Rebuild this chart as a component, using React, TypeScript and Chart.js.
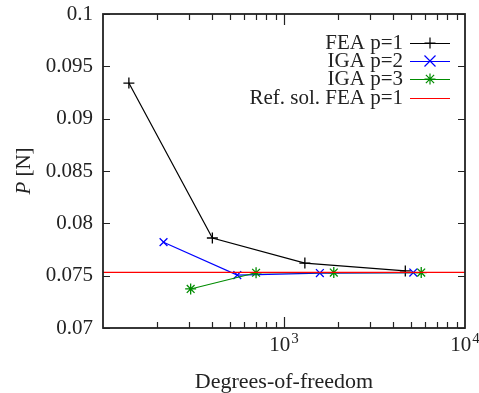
import React, { useEffect, useRef } from "react";
import { Chart, registerables } from "chart.js";

Chart.register(...registerables);

const feaDofs = [139, 402, 1304, 4680];
const feaP = [0.0934, 0.0786, 0.0762, 0.07545];
const iga2Dofs = [216, 552, 1578, 5180];
const iga2P = [0.0782, 0.07506, 0.07525, 0.0753];
const iga3Dofs = [305, 701, 1884, 5730];
const iga3P = [0.07373, 0.07528, 0.0753, 0.0753];
const refValue = 0.07532;
const seriesLabels = ["FEA p=1", "IGA p=2", "IGA p=3", "Ref. sol. FEA p=1"];
const seriesColors = ["#000000", "#0000ff", "#008c00", "#ff0000"];
const yTicks = [0.07, 0.075, 0.08, 0.085, 0.09, 0.095, 0.1];
const xMinorTicks = [200, 300, 400, 500, 600, 700, 800, 900, 2000, 3000, 4000, 5000, 6000, 7000, 8000, 9000];
const xMajorTicks = [1000];
const xLabelValues = [1000, 10000];
const xLabelExponents = ["3", "4"];
const xTitle = "Degrees-of-freedom";
const yTitle = "P [N]";

const FONT = "'Liberation Serif', 'DejaVu Serif', serif";
const TEXT = "#222";

export default function App() {
  const ref = useRef<HTMLCanvasElement>(null);
  useEffect(() => {
    const ctx = ref.current!.getContext("2d")!;
    const decor = {
      id: "decor",
      afterDraw(chart: any) {
        const c = chart.ctx;
        const a = chart.chartArea;
        const xs = chart.scales.x;
        const ys = chart.scales.y;
        c.save();
        c.strokeStyle = "#222";
        c.lineWidth = 1.2;
        c.beginPath();
        yTicks.forEach((v) => {
          const y = Math.round(ys.getPixelForValue(v)) + 0.5;
          c.moveTo(a.left, y); c.lineTo(a.left + 7, y);
          c.moveTo(a.right, y); c.lineTo(a.right - 7, y);
        });
        xMinorTicks.forEach((v) => {
          const x = Math.round(xs.getPixelForValue(v)) + 0.5;
          c.moveTo(x, a.bottom); c.lineTo(x, a.bottom - 6);
          c.moveTo(x, a.top); c.lineTo(x, a.top + 6);
        });
        xMajorTicks.forEach((v) => {
          const x = Math.round(xs.getPixelForValue(v)) + 0.5;
          c.moveTo(x, a.bottom); c.lineTo(x, a.bottom - 11);
          c.moveTo(x, a.top); c.lineTo(x, a.top + 11);
        });
        c.stroke();
        c.lineWidth = 1.8;
        c.strokeRect(a.left, a.top, a.right - a.left, a.bottom - a.top);
        c.fillStyle = TEXT;
        // x tick labels with superscripts
        c.textBaseline = "alphabetic";
        c.textAlign = "left";
        xLabelValues.forEach((v, i) => {
          const cx = xs.getPixelForValue(v);
          c.font = `21px ${FONT}`;
          const bw = c.measureText("10").width;
          c.font = `15px ${FONT}`;
          const ew = c.measureText(xLabelExponents[i]).width;
          const sx = cx - (bw + ew + 1) / 2;
          c.font = `21px ${FONT}`;
          c.fillText("10", sx, 351);
          c.font = `15px ${FONT}`;
          c.fillText(xLabelExponents[i], sx + bw + 1, 343);
        });
        // titles
        c.font = `22px ${FONT}`;
        c.textAlign = "center";
        c.textBaseline = "middle";
        c.fillText(xTitle, (a.left + a.right) / 2, 382);
        c.save();
        c.translate(24, (a.top + a.bottom) / 2);
        c.rotate(-Math.PI / 2);
        const parts = yTitle.split(" ");
        c.font = `italic 21px ${FONT}`;
        const pw = c.measureText(parts[0]).width;
        c.font = `21px ${FONT}`;
        const rw = c.measureText(" " + parts[1]).width;
        const start = -(pw + rw) / 2;
        c.textAlign = "left";
        c.font = `italic 21px ${FONT}`;
        c.fillText(parts[0], start, 0);
        c.font = `21px ${FONT}`;
        c.fillText(" " + parts[1], start + pw, 0);
        c.restore();
        // legend
        const rows = [43, 61, 79, 98];
        const markers = ["cross", "crossRot", "star", ""];
        c.font = `21px ${FONT}`;
        c.textAlign = "right";
        rows.forEach((ry, i) => {
          c.fillStyle = TEXT;
          c.fillText(seriesLabels[i], 403, ry);
          c.strokeStyle = seriesColors[i];
          c.lineWidth = 1.2;
          c.beginPath();
          c.moveTo(410, ry + 0.5);
          c.lineTo(450, ry + 0.5);
          c.stroke();
          if (markers[i]) {
            const r = 5.5;
            c.beginPath();
            const m = markers[i];
            if (m === "cross" || m === "star") {
              c.moveTo(430 - r, ry); c.lineTo(430 + r, ry);
              c.moveTo(430, ry - r); c.lineTo(430, ry + r);
            }
            if (m === "crossRot" || m === "star") {
              const d = m === "star" ? r * 0.75 : r;
              c.moveTo(430 - d, ry - d); c.lineTo(430 + d, ry + d);
              c.moveTo(430 - d, ry + d); c.lineTo(430 + d, ry - d);
            }
            c.stroke();
          }
        });
        c.restore();
      },
    };
    const mk = (xsArr: number[], ysArr: number[]) => xsArr.map((x, i) => ({ x, y: ysArr[i] }));
    const chart = new Chart(ctx, {
      type: "line",
      data: {
        datasets: [
          {
            label: seriesLabels[3],
            data: [{ x: 100, y: refValue }, { x: 10000, y: refValue }],
            borderColor: seriesColors[3],
            borderWidth: 1.3,
            pointRadius: 0,
          },
          {
            label: seriesLabels[2],
            data: mk(iga3Dofs, iga3P),
            borderColor: seriesColors[2],
            borderWidth: 1.2,
            pointStyle: "star",
            pointRadius: 5.5,
            pointBorderWidth: 1.3,
            pointBorderColor: seriesColors[2],
          },
          {
            label: seriesLabels[1],
            data: mk(iga2Dofs, iga2P),
            borderColor: seriesColors[1],
            borderWidth: 1.2,
            pointStyle: "crossRot",
            pointRadius: 5.5,
            pointBorderWidth: 1.3,
            pointBorderColor: seriesColors[1],
          },
          {
            label: seriesLabels[0],
            data: mk(feaDofs, feaP),
            borderColor: seriesColors[0],
            borderWidth: 1.2,
            pointStyle: "cross",
            pointRadius: 5.5,
            pointBorderWidth: 1.3,
            pointBorderColor: seriesColors[0],
          },
        ],
      },
      options: {
        animation: false,
        responsive: false,
        maintainAspectRatio: false,
        layout: { padding: { left: 0, right: 14, top: 14, bottom: 0 } },
        plugins: { legend: { display: false }, tooltip: { enabled: false } },
        scales: {
          x: {
            type: "logarithmic",
            min: 100,
            max: 10000,
            grid: { display: false, drawTicks: false },
            border: { display: false },
            afterFit: (s: any) => { s.height = 65; s.paddingLeft = 0; s.paddingRight = 0; },
            ticks: { display: false },
          },
          y: {
            type: "linear",
            min: 0.07,
            max: 0.1,
            grid: { display: false, drawTicks: false },
            border: { display: false },
            afterFit: (s: any) => { s.width = 103; s.paddingTop = 0; s.paddingBottom = 0; },
            afterBuildTicks: (s: any) => { s.ticks = yTicks.map((v) => ({ value: v })); },
            ticks: {
              padding: 10,
              color: TEXT,
              font: { family: FONT, size: 21 },
              callback: (v: any) => String(Number(Number(v).toFixed(4))),
            },
          },
        },
      },
      plugins: [decor],
    });
    return () => chart.destroy();
  }, []);
  return (
    <div style={{ position: "fixed", left: 0, top: 0, width: 479, height: 393, background: "#fff" }}>
      <canvas ref={ref} width={479} height={393} style={{ width: 479, height: 393 }} />
    </div>
  );
}
